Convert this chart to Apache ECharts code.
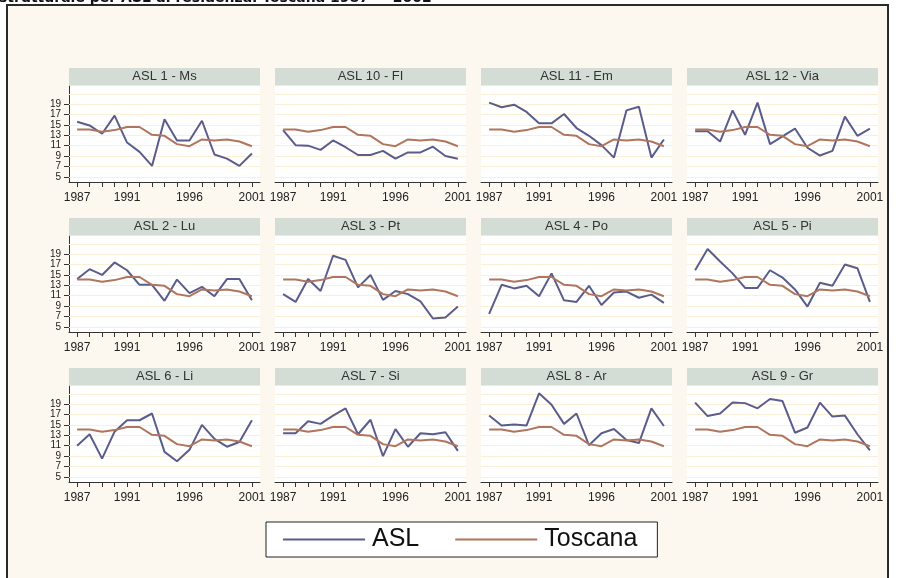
<!DOCTYPE html>
<html><head><meta charset="utf-8">
<script src="https://cdn.jsdelivr.net/npm/echarts@6/dist/echarts.min.js"></script>
<style>html,body{margin:0;padding:0;background:#fff}#c{width:902px;height:578px}</style>
</head><body><div id="c"></div>
<script>
const years = [1987,1988,1989,1990,1991,1992,1993,1994,1995,1996,1997,1998,1999,2000,2001];
const xTickLabels = [1987,1991,1996,2001];
const yTickLabels = [5,7,9,11,13,15,17,19];
const gridValues = [5,7,9,11,13,15,17,19,21];
const panelNames = ['ASL 1 - Ms','ASL 10 - FI','ASL 11 - Em','ASL 12 - Via','ASL 2 - Lu','ASL 3 - Pt','ASL 4 - Po','ASL 5 - Pi','ASL 6 - Li','ASL 7 - Si','ASL 8 - Ar','ASL 9 - Gr'];
const toscana = [14.1,14.1,13.7,14.0,14.6,14.6,13.1,12.9,11.3,10.9,12.2,12.0,12.2,11.8,10.9];
const asl1Ms  = [15.6,14.9,13.3,16.8,11.6,9.8,7.1,16.1,12.0,12.0,15.8,9.3,8.5,7.1,9.5];
const asl10Fi = [14.0,11.1,11.0,10.2,12.0,10.7,9.2,9.2,10.0,8.5,9.7,9.7,10.8,9.0,8.5];
const asl11Em = [19.3,18.4,18.9,17.5,15.3,15.3,17.1,14.4,12.9,11.1,8.7,17.8,18.5,8.7,12.2];
const asl12Via= [13.8,13.8,11.8,17.8,13.1,19.3,11.3,12.8,14.3,10.6,9.1,10.0,16.6,12.9,14.3];
const asl2Lu  = [14.2,16.1,15.0,17.4,15.9,13.1,13.1,10.0,14.1,11.5,12.7,10.9,14.2,14.2,10.1];
const asl3Pt  = [11.3,9.8,14.2,11.9,18.7,17.9,12.6,15.0,10.2,11.9,11.3,9.9,6.6,6.8,8.9];
const asl4Po  = [7.5,13.1,12.4,12.9,10.9,15.3,10.1,9.8,12.9,9.2,11.6,11.8,10.6,11.2,9.6];
const asl5Pi  = [15.9,20.0,17.6,15.3,12.5,12.5,15.9,14.5,12.2,8.9,13.5,12.9,17.0,16.3,9.8];
const asl6Li  = [11.0,13.2,8.5,13.7,15.9,15.9,17.2,9.8,8.0,10.2,15.0,12.3,10.8,11.7,15.9];
const asl7Si  = [13.4,13.4,15.7,15.2,16.8,18.2,13.2,16.0,9.0,14.2,10.8,13.4,13.2,13.6,10.0];
const asl8Ar  = [16.8,14.9,15.1,14.9,21.1,18.9,15.2,17.2,11.1,13.4,14.2,12.1,11.5,18.2,14.8];
const asl9Gr  = [19.3,16.7,17.2,19.3,19.2,18.2,20.0,19.6,13.5,14.5,19.3,16.6,16.8,13.2,10.1];
const aslSeries = [asl1Ms,asl10Fi,asl11Em,asl12Via,asl2Lu,asl3Pt,asl4Po,asl5Pi,asl6Li,asl7Si,asl8Ar,asl9Gr];

const ASL_COLOR = '#5a5d8c', TOS_COLOR = '#b0765d';
const GRID_L = 69, GRID_T = 86, GRID_W = 191, GRID_H = 96, STEP_X = 206, STEP_Y = 150, STRIP_H = 17.5;
const FONT = 'Liberation Sans, Arial, sans-serif';

const grids = [], xAxes = [], yAxes = [], series = [], graphics = [];
graphics.push({type:'rect', z:-5, shape:{x:7,y:5,width:881,height:600}, style:{fill:'#fdf8ef', stroke:'#2a2a2a', lineWidth:2}, silent:true});
graphics.push({type:'text', x:-1, y:-9, z:5, style:{text:'strutturale per ASL di residenza. Toscana 1987 \u2014 2002', font:'bold 14px "DejaVu Sans", sans-serif', fill:'#111', verticalAlign:'top'}});

const pair = v => years.map((y,k)=>[y,v[k]]);
for (let i=0;i<12;i++){
  const col=i%4, row=Math.floor(i/4);
  const left=GRID_L+STEP_X*col, top=GRID_T+STEP_Y*row;
  grids.push({left:left, top:top, width:GRID_W, height:GRID_H, show:true, backgroundColor:'#ffffff', borderWidth:0, containLabel:false});
  xAxes.push({type:'value', gridIndex:i, min:1986.35, max:2001.65,
    axisLine:{show:true, onZero:false, lineStyle:{color:'#333', width:1}},
    axisTick:{show:true, customValues:years, length:5, lineStyle:{color:'#333'}},
    axisLabel:{show:true, customValues:xTickLabels, fontSize:12, color:'#222', margin:10, fontFamily:FONT, formatter:v=>String(v)},
    splitLine:{show:false}});
  yAxes.push({type:'value', gridIndex:i, min:4, max:22.5,
    axisLine:{show:col===0, lineStyle:{color:'#333', width:1}},
    axisTick:{show:col===0, customValues:yTickLabels, length:5, lineStyle:{color:'#333'}},
    axisLabel:{show:col===0, customValues:yTickLabels, fontSize:10, lineHeight:10, hideOverlap:false, showMinLabel:true, showMaxLabel:true, color:'#222', margin:8, fontFamily:FONT},
    splitLine:{show:false}});
  series.push({name:'ASL', type:'line', xAxisIndex:i, yAxisIndex:i, data:pair(aslSeries[i]), symbol:'none', lineStyle:{color:ASL_COLOR, width:2}, itemStyle:{color:ASL_COLOR}, z:3, animation:false,
    markLine:{silent:true, z:1, symbol:['none','none'], label:{show:false}, lineStyle:{color:'#fcefd8', type:'solid', width:1}, data:gridValues.map(v=>({yAxis:v})), animation:false}});
  series.push({name:'Toscana', type:'line', xAxisIndex:i, yAxisIndex:i, data:pair(toscana), symbol:'none', lineStyle:{color:TOS_COLOR, width:2}, itemStyle:{color:TOS_COLOR}, z:3, animation:false});
  graphics.push({type:'rect', z:10, shape:{x:left, y:top-STRIP_H-0.5, width:GRID_W, height:STRIP_H}, style:{fill:'#d4ddd5'}, silent:true});
  graphics.push({type:'text', z:11, x:left+GRID_W/2, y:top-STRIP_H/2-0.5, style:{text:panelNames[i], font:'13px '+FONT, fill:'#333', align:'center', verticalAlign:'middle'}});
}

const chart = echarts.init(document.getElementById('c'), null, {renderer:'canvas'});
chart.setOption({
  backgroundColor:'#ffffff',
  animation:false,
  grid:grids, xAxis:xAxes, yAxis:yAxes, series:series,
  legend:{data:['ASL','Toscana'], left:266, top:522, orient:'horizontal', padding:[5,20,5,17], icon:'rect', itemWidth:82, itemHeight:2, itemGap:36,
    borderColor:'#222', borderWidth:1, backgroundColor:'#ffffff', borderRadius:0,
    textStyle:{fontSize:25, color:'#111', fontFamily:FONT, padding:[0,0,0,2]}},
  graphic:graphics
});
</script></body></html>
